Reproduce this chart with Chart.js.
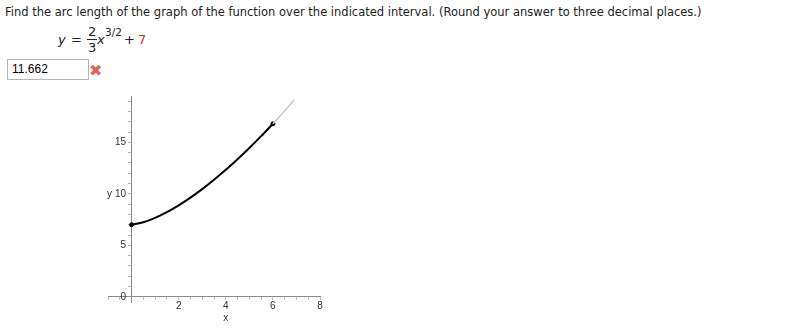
<!DOCTYPE html>
<html>
<head>
<meta charset="utf-8">
<script src="https://cdn.jsdelivr.net/npm/chart.js@4.4.0/dist/chart.umd.min.js"></script>
<style>
  body { margin: 0; background: #fff; width: 800px; height: 329px; overflow: hidden; position: relative; font-family: "DejaVu Sans", Verdana, sans-serif; }
  #question { position: absolute; left: 5px; top: 5px; font-size: 11.5px; color: #222; white-space: nowrap; }
  .eq { position: absolute; font-size: 13px; line-height: 13px; color: #222; }
  #answer { position: absolute; left: 7px; top: 59px; width: 76px; height: 19px; border: 1px solid #b5b5b5; font: 12px "Liberation Sans", Arial, sans-serif; line-height: 19px; padding-left: 4px; box-sizing: content-box; }
  #wrong { position: absolute; left: 89px; top: 61px; font-size: 16px; color: #e0605e; }
  #wrap { position: absolute; left: 0; top: 0; width: 800px; height: 329px; }
</style>
</head>
<body>
<div id="question">Find the arc length of the graph of the function over the indicated interval. (Round your answer to three decimal places.)</div>
<div class="eq" style="left:58px; top:33px; font-style:italic;">y</div>
<div class="eq" style="left:71px; top:33px;">=</div>
<div class="eq" style="left:88px; top:25px;">2</div>
<div class="eq" style="left:87px; top:39px; width:10px; height:0; border-top:1px solid #222;"></div>
<div class="eq" style="left:88px; top:41px;">3</div>
<div class="eq" style="left:97px; top:33px; font-style:italic;">x</div>
<div class="eq" style="left:105px; top:26px; font-size:10.5px;">3/2</div>
<div class="eq" style="left:124px; top:33px;">+</div>
<div class="eq" style="left:138px; top:33px; color:#c0392b;">7</div>
<div id="answer">11.662</div>
<div id="wrong">✖</div>
<div id="wrap"><canvas id="graph" width="800" height="329"></canvas></div>
<script>
// curve on the interval [0, 6]
let curveX = [0, 0.5, 1, 1.5, 2, 2.5, 3, 3.5, 4, 4.5, 5, 5.5, 6]
let curveY = [7, 7.24, 7.67, 8.22, 8.89, 9.64, 10.46, 11.37, 12.33, 13.36, 14.45, 15.6, 16.8]
// grey continuation past the interval
let restX = [6, 6.45, 6.9]
let restY = [16.8, 17.93, 19.1]
// end points
let endX = [0, 6]
let endY = [7, 16.8]
let xLabels = [2, 4, 6, 8]
let yLabels = [0, 5, 10, 15]

function pts(xs, ys) {
    return xs.map((v, i) => ({ x: v, y: ys[i] }))
}

// tick marks every step between a and b
function tickRange(a, b, step) {
    let out = []
    for (let v = a; v <= b + 1e-9; v += step) out.push({ value: Math.round(v * 100) / 100 })
    return out
}

let axisGrey = "#8a8a8a"
let tickFont = { family: "'Liberation Sans', Arial, sans-serif", size: 10 }

new Chart(document.getElementById("graph").getContext("2d"), {
    type: "scatter",
    data: {
        datasets: [
            { data: pts(restX, restY), showLine: true, borderColor: "#c8c8c8", borderWidth: 1.5, pointRadius: 0 },
            { data: pts(curveX, curveY), showLine: true, borderColor: "#000", borderWidth: 2, pointRadius: 0, cubicInterpolationMode: "monotone" },
            { data: pts(endX, endY), showLine: false, backgroundColor: "#000", borderColor: "#000", pointRadius: 2 }
        ]
    },
    options: {
        responsive: false,
        animation: false,
        events: [],
        layout: { padding: { left: 108, right: 480, top: 96, bottom: 27 } },
        plugins: { legend: { display: false }, tooltip: { enabled: false } },
        scales: {
            x: {
                type: "linear",
                position: { y: 0 },
                min: -1, max: 8,
                border: { color: axisGrey, width: 1 },
                grid: { drawOnChartArea: false, drawTicks: true, tickLength: 3, color: "#c0c0c0" },
                afterBuildTicks: s => { s.ticks = tickRange(-1, 8, 0.5) },
                ticks: {
                    autoSkip: false, maxRotation: 0, padding: 0,
                    color: "#333", font: tickFont,
                    callback: v => xLabels.includes(v) ? (v === 4 ? ["4", "x"] : String(v)) : ""
                }
            },
            y: {
                type: "linear",
                position: { x: 0 },
                min: -0.5, max: 19.5,
                border: { color: axisGrey, width: 1 },
                grid: { drawOnChartArea: false, drawTicks: true, tickLength: 3, color: "#b0b0b0" },
                afterBuildTicks: s => { s.ticks = tickRange(0, 19, 1) },
                ticks: {
                    autoSkip: false, padding: 2,
                    color: "#333", font: tickFont,
                    // trailing spaces keep the labels clear of the axis line
                    callback: v => yLabels.includes(v) ? (v === 10 ? "y 10  " : String(v) + "  ") : ""
                }
            }
        }
    }
})
</script>
</body>
</html>
